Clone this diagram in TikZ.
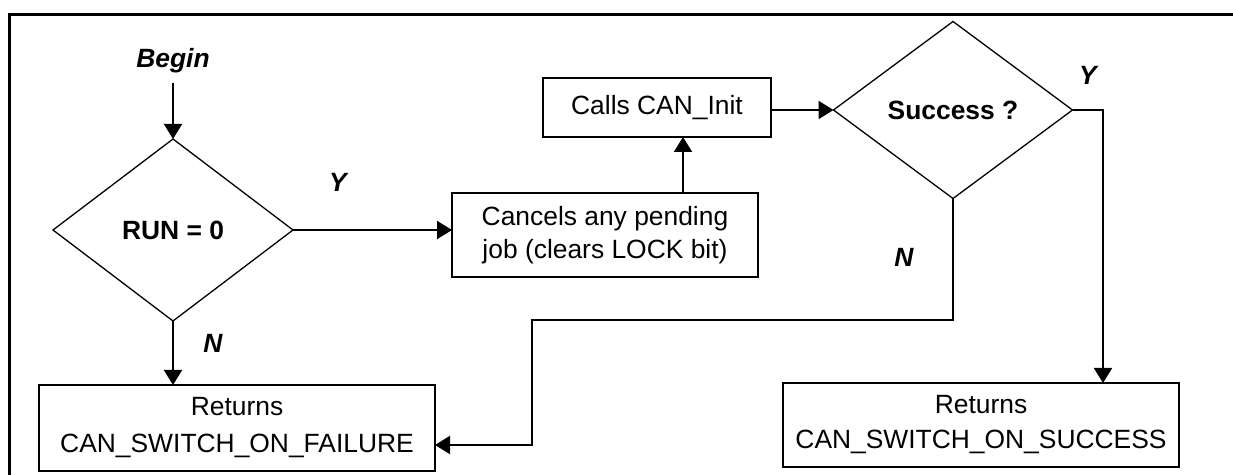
\documentclass[tikz,border=0pt]{standalone}
\usepackage{fontspec}
\setmainfont{Liberation Sans}
\usetikzlibrary{shapes.geometric,arrows.meta}
\begin{document}
\begin{tikzpicture}[x=0.5pt,y=-0.5pt,
  box/.style={draw, line width=1pt, inner sep=0pt, outer sep=0pt, align=center},
  dec/.style={diamond, draw, line width=0.65pt, inner sep=0pt, outer sep=0pt,
    font=\bfseries\fontsize{13.2}{16}\selectfont},
  lbl/.style={inner sep=0pt, font=\bfseries\itshape\fontsize{13.2}{16}\selectfont},
  arr/.style={line width=1pt, -{Triangle[length=7.5pt,width=9pt]}},
  conn/.style={line width=1pt}]
\useasboundingbox (0,0) rectangle (1233,475);
% frame
\draw[line width=1.5pt] (9,476) -- (9,15) -- (1234,15);
% nodes
\node[lbl] (begin) at (173,61) {Begin};
\node[dec, minimum width=120pt, minimum height=91pt] (run) at (173,230) {RUN = 0};
\node[box, minimum width=153pt, minimum height=42pt,
  font=\fontsize{13.2}{16.5}\selectfont] (cancel) at (605,235) {Cancels any pending\\job (clears LOCK bit)};
\node[box, minimum width=114pt, minimum height=29.5pt,
  font=\fontsize{13.2}{16}\selectfont] (calls) at (657,107.5) {Calls CAN\_Init};
\node[dec, minimum width=119.5pt, minimum height=88.5pt] (sdec) at (953,110) {Success ?};
\node[box, minimum width=198pt, minimum height=43pt,
  font=\fontsize{13.2}{18.5}\selectfont] (fbox) at (237,428) {Returns\\CAN\_SWITCH\_ON\_FAILURE};
\node[box, minimum width=198pt, minimum height=42pt,
  font=\fontsize{13.2}{17.5}\selectfont] (sbox) at (981,425) {Returns\\CAN\_SWITCH\_ON\_SUCCESS};
% labels
\node[lbl] (y1) at (338,182) {Y};
\node[lbl] (n1) at (213,343) {N};
\node[lbl] (y2) at (1088,75) {Y};
\node[lbl] (n2) at (904,257) {N};
% helper coordinates
\coordinate (cx) at (683,0);
\coordinate (yturn) at (1103,0);
\coordinate (nturn) at (532,320);
\coordinate (nin) at (0,445);
% connectors
\draw[arr] ([yshift=-4.5pt]begin.south) -- (run.north);
\draw[arr] (run.east) -- (run.east -| cancel.west);
\draw[arr] (run.south) -- (run.south |- fbox.north);
\draw[arr] (cancel.north -| cx) -- (calls.south -| cx);
\draw[arr] (calls.east |- sdec.west) -- (sdec.west);
\draw[arr] (sdec.east) -- (sdec.east -| yturn) -- (yturn |- sbox.north);
\draw[arr] (sdec.south) |- (nturn) |- (fbox.east |- nin);
\end{tikzpicture}
\end{document}
